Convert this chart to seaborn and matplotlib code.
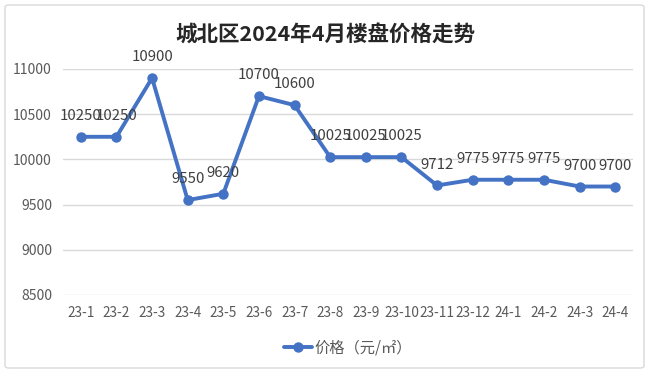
import matplotlib
matplotlib.use("Agg")
import matplotlib.pyplot as plt
import seaborn as sns
import pandas as pd
from matplotlib.patches import FancyBboxPatch

months = ["23-1", "23-2", "23-3", "23-4", "23-5", "23-6", "23-7", "23-8",
          "23-9", "23-10", "23-11", "23-12", "24-1", "24-2", "24-3", "24-4"]
prices = [10250, 10250, 10900, 9550, 9620, 10700, 10600, 10025,
          10025, 10025, 9712, 9775, 9775, 9775, 9700, 9700]
yticks = [8500, 9000, 9500, 10000, 10500, 11000]
title = "城北区2024年4月楼盘价格走势"
series_name = "价格（元/㎡）"

sns.set_theme(style="white")
plt.rcParams['font.family'] = ['Noto Sans CJK SC', 'DejaVu Sans']

df = pd.DataFrame({"month": months, "price": prices, "series": series_name})

fig = plt.figure(figsize=(6.5, 3.76), dpi=100)
ax = fig.add_axes([63/650, 1-295/376, (633-63)/650, (295-69)/376])

color = "#4472C4"
sns.lineplot(data=df, x="month", y="price", hue="series", palette=[color],
             marker="o", markersize=7.5, markeredgewidth=0, linewidth=2.8,
             sort=False, ax=ax)

ax.set_xlim(-0.5, len(months) - 0.5)
ax.set_ylim(8500, 11000)
ax.set_yticks(yticks)
ax.set_yticklabels([str(t) for t in yticks], fontsize=10, color="#595959")
ax.set_xticks(range(len(months)))
ax.set_xticklabels(months, fontsize=9.8, color="#595959")
ax.tick_params(axis='both', length=0, pad=8)
ax.set_xlabel("")
ax.set_ylabel("")
ax.grid(axis='y', color="#D9D9D9", linewidth=1)
ax.set_axisbelow(True)
for s in ax.spines.values():
    s.set_visible(False)
for line in ax.lines:
    line.set_clip_on(False)

for i, v in enumerate(prices):
    ax.annotate(str(v), (i, v), xytext=(0, 15), textcoords="offset points",
                ha="center", va="center", fontsize=10.8, color="#404040")

fig.text(0.5, 1-35/376, title, ha="center", va="center", fontsize=15.5,
         fontweight="bold", color="#262626")

leg = ax.legend(loc="center", bbox_to_anchor=(0.5, -(348-295)/(295-69)),
                frameon=False, fontsize=11, handlelength=1.8, handletextpad=0.15)
for t in leg.get_texts():
    t.set_color("#595959")

border = FancyBboxPatch((5/650, 1-368/376), (644-5)/650, (368-5)/376,
                        boxstyle="round,pad=0,rounding_size=0.006",
                        transform=fig.transFigure, fill=False,
                        edgecolor="#D9D9D9", linewidth=1)
fig.patches.append(border)

fig.savefig("out.png", dpi=100)
